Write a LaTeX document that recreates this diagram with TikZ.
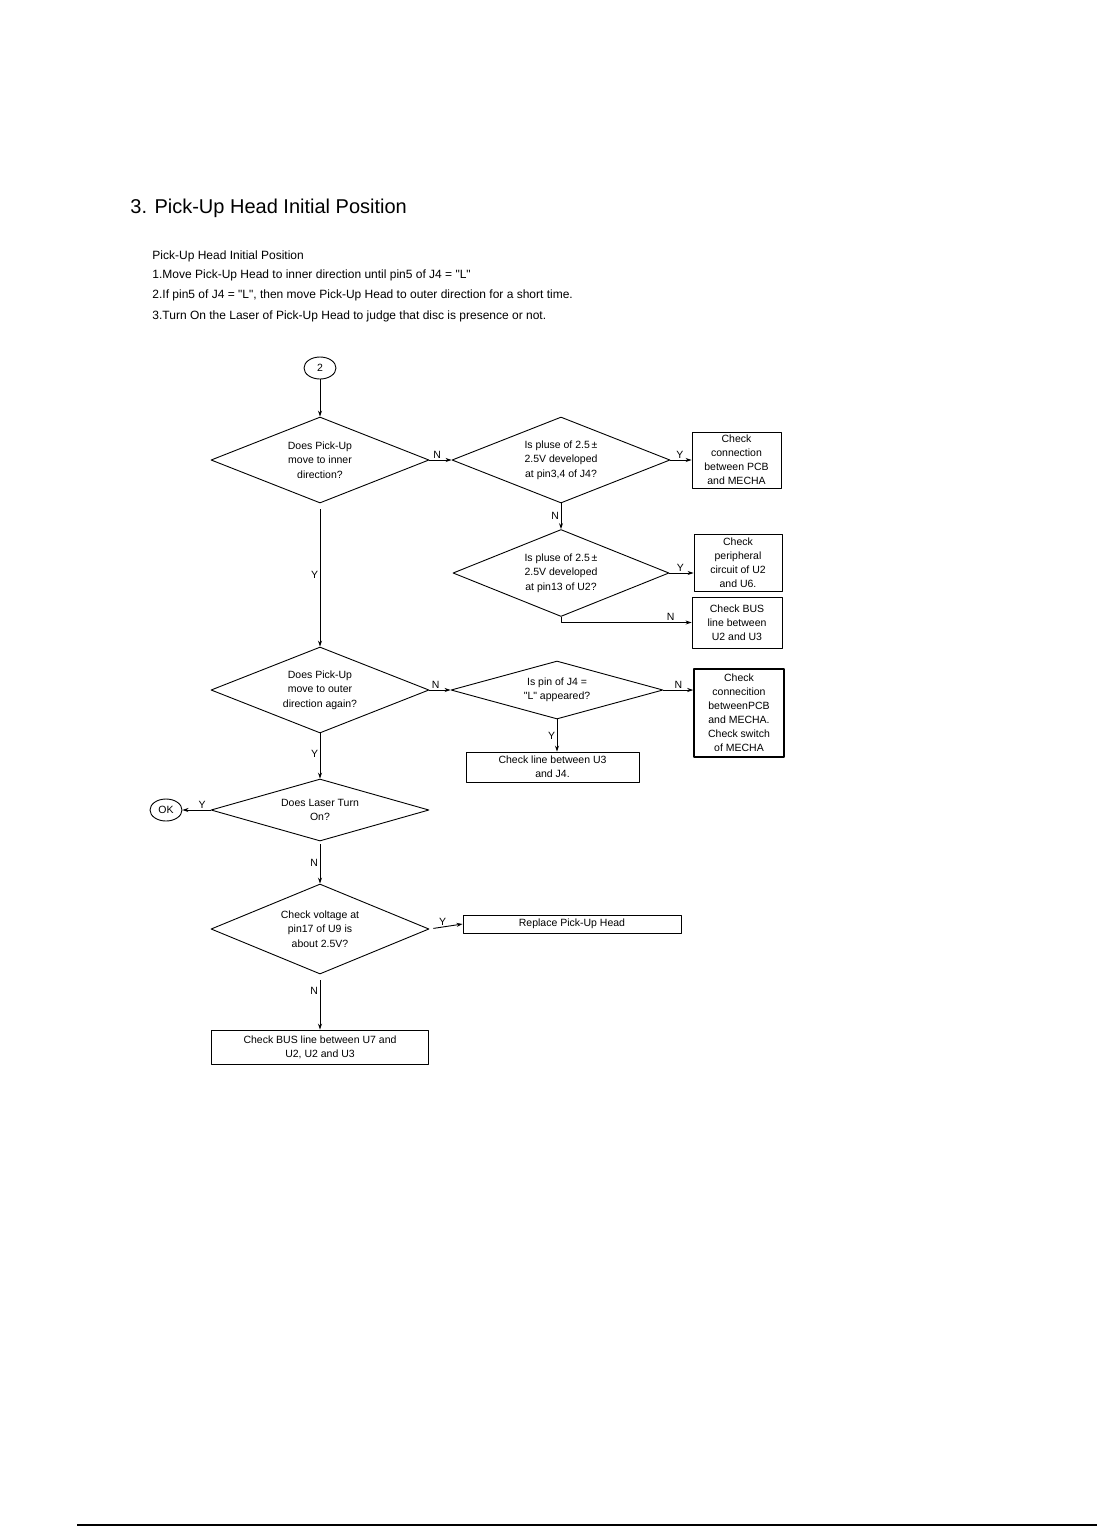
\documentclass[tikz,border=0pt]{standalone}
\usepackage{fontspec}
\setmainfont{Liberation Sans}[Ligatures=TeXOff]
\usetikzlibrary{shapes.geometric,arrows.meta}

\tikzset{
  dec/.style={draw,shape=diamond,aspect=2.5,inner sep=0pt,minimum width=218pt,
    minimum height=86pt,align=center,font=\fontsize{10.5}{14.5}\selectfont},
  chk/.style={draw,rectangle,inner sep=0pt,align=center,font=\fontsize{10.5}{14}\selectfont},
  term/.style={draw,ellipse,inner sep=0pt,minimum width=32pt,minimum height=22pt,
    font=\fontsize{10.5}{12}\selectfont},
  flow/.style={-{Stealth[length=6pt,width=4pt]}},
  yn/.style={font=\fontsize{10.5}{12}\selectfont,inner sep=1.5pt},
  txt/.style={anchor=base west,inner sep=0pt,font=\fontsize{12}{14}\selectfont},
}

\begin{document}
\begin{tikzpicture}[x=1pt,y=-1pt,line width=0.9pt,line join=round]
\useasboundingbox (0,0) rectangle (1097,1527);

% heading
\node[txt,font=\fontsize{20}{24}\selectfont] (title) at (130,213) {3. Pick-Up Head Initial Position};
\node[txt] (intro) at (152,259) {Pick-Up Head Initial Position};
\node[txt] (step1) at (152,278) {1.Move Pick-Up Head to inner direction until pin5 of J4 = "L"};
\node[txt] (step2) at (152,298) {2.If pin5 of J4 = "L", then move Pick-Up Head to outer direction for a short time.};
\node[txt] (step3) at (152,319) {3.Turn On the Laser of Pick-Up Head to judge that disc is presence or not.};

% decisions
\node[term] (start) at (320,368) {2};
\node[dec] (inner) at (320,460) {Does Pick-Up\\move to inner\\direction?};
\node[dec] (pulseJ) at (561,460) {Is pluse of 2.5\,±\\2.5V developed\\at pin3,4 of J4?};
\node[dec,minimum width=216pt,minimum height=87pt] (pulseU) at (561,573) {Is pluse of 2.5\,±\\2.5V developed\\at pin13 of U2?};
\node[dec] (outer) at (320,690) {Does Pick-Up\\move to outer\\direction again?};
\node[dec,aspect=3.6,minimum width=212pt,minimum height=58pt] (pinJ) at (557,690) {Is pin of J4 =\\"L" appeared?};
\node[dec,aspect=3.5,minimum height=62pt] (laser) at (320,810) {Does Laser Turn\\On?};
\node[dec,minimum height=90pt] (volt) at (320,929) {Check voltage at\\pin17 of U9 is\\about 2.5V?};
\node[term] (ok) at (166,810) {OK};

% check boxes
\node[chk,minimum width=89pt,minimum height=56pt] (conn) at (736.5,460) {Check\\connection\\between PCB\\and MECHA};
\node[chk,minimum width=88pt,minimum height=57pt] (periph) at (738,562.5) {Check\\peripheral\\circuit of U2\\and U6.};
\node[chk,minimum width=90pt,minimum height=51pt] (busA) at (737,622.5) {Check BUS\\line between\\U2 and U3};
\node[chk,line width=1.5pt,minimum width=90pt,minimum height=88pt] (sw) at (739,713) {Check\\connecition\\betweenPCB\\and MECHA.\\Check switch\\of MECHA};
\node[chk,minimum width=173pt,minimum height=30pt] (line) at (552.5,767) {Check line between U3\\and J4.};
\node[chk,minimum width=218pt,minimum height=18pt] (head) at (572,924) {Replace Pick-Up Head};
\node[chk,minimum width=217pt,minimum height=34pt] (busB) at (320,1047) {Check BUS line between U7 and\\U2, U2 and U3};

% connectors
\draw[flow] (start) -- (inner);
\draw[flow] (inner.east) -- node[yn,above,pos=0.35] (n1) {N} (pulseJ.west);
\draw[flow] (pulseJ.east) -- node[yn,above,pos=0.45] (y1) {Y} (conn.west);
\draw[flow] (pulseJ.south) -- node[yn,left] (n2) {N} (pulseU.north);
\draw[flow] (pulseU.east) -- node[yn,above,pos=0.45] (y2) {Y} (pulseU.east -| periph.west);
\draw[flow] (pulseU.south) |- node[yn,above,pos=0.92] (n3) {N} (busA.west);
\draw[flow,shorten <=6pt] (inner.south) -- node[yn,left] (y3) {Y} (outer.north);
\draw[flow] (outer.east) -- node[yn,above,pos=0.3] (n4) {N} (pinJ.west);
\draw[flow] (pinJ.east) -- node[yn,above,pos=0.5] (n5) {N} (pinJ.east -| sw.west);
\draw[flow] (pinJ.south) -- node[yn,left] (y4) {Y} (pinJ.south |- line.north);
\draw[flow] (outer.south) -- node[yn,left,pos=0.45] (y5) {Y} (laser.north);
\draw[flow] (laser.west) -- node[yn,above,pos=0.3] (y6) {Y} (ok.east);
\draw[flow,shorten <=3pt] (laser.south) -- node[yn,left] (n6) {N} (volt.north);
\draw[flow,shorten <=4pt] (volt.east) -- node[yn,above,pos=0.4] (y7) {Y} (head.west);
\draw[flow,shorten <=6pt] (volt.south) -- node[yn,left,pos=0.3] (n7) {N} (busB.north);

% page rule
\draw[line width=2pt] (77,1525) -- (1097,1525);
\end{tikzpicture}
\end{document}
